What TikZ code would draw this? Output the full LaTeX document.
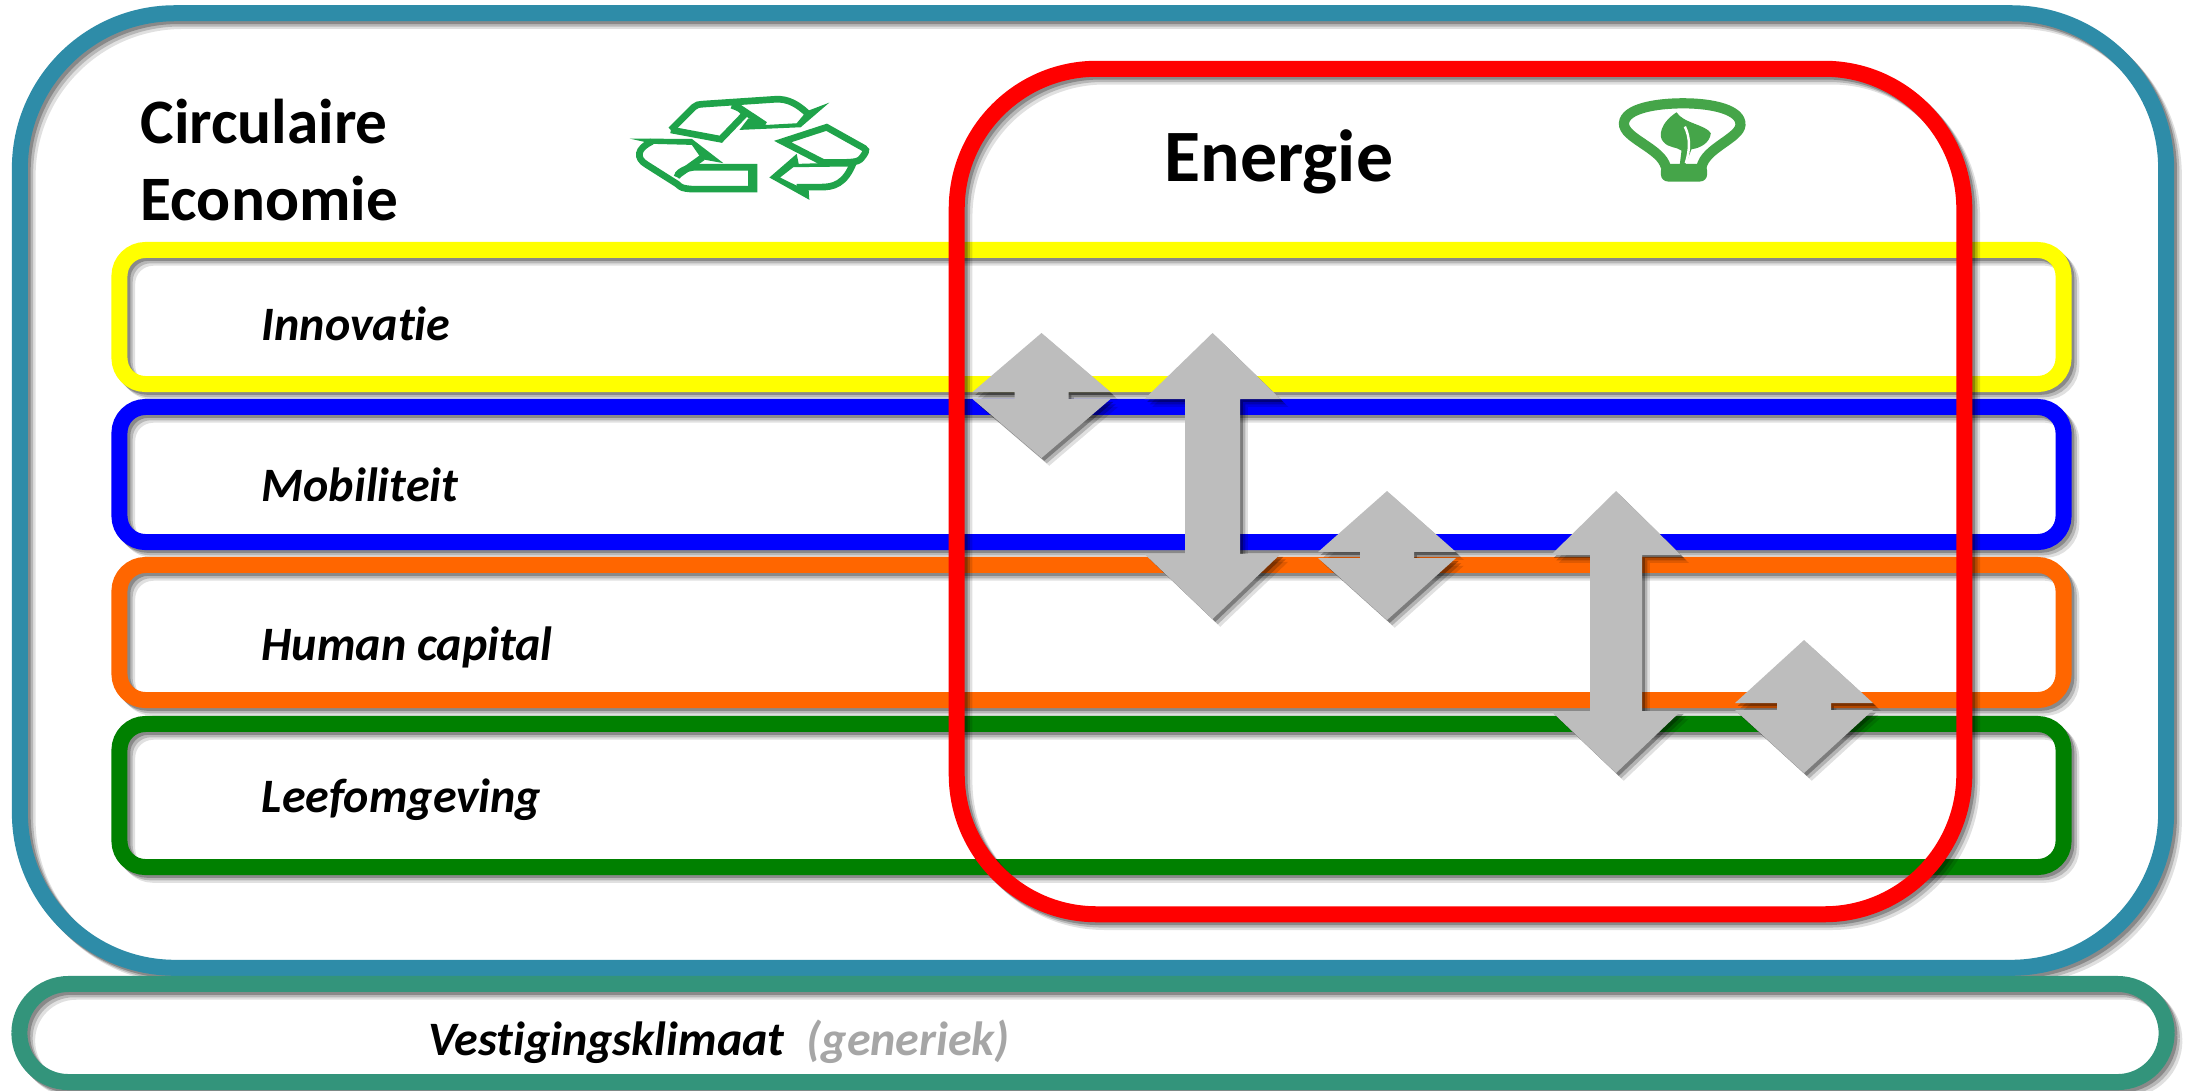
\documentclass[tikz,border=0pt]{standalone}
\usepackage{fontspec}
\setmainfont{Carlito}[Ligatures=NoCommon]
\definecolor{tealring}{HTML}{2E8CA8}
\definecolor{pillring}{HTML}{33947B}
\definecolor{yellowring}{HTML}{FFFF00}
\definecolor{orangering}{HTML}{FF6600}
\definecolor{greenring}{HTML}{008000}
\definecolor{arrowgrey}{HTML}{BDBDBD}
\definecolor{labelgrey}{HTML}{A6A6A6}
\definecolor{recyclegreen}{HTML}{1FA34A}
\definecolor{bulbgreen}{HTML}{45A549}
\tikzset{
  softshadow/.style={
    preaction={draw=black,opacity=.12,transform canvas={xshift=2.2pt,yshift=-2.2pt}},
    preaction={draw=black,opacity=.18,transform canvas={xshift=1.5pt,yshift=-1.5pt}},
    preaction={draw=black,opacity=.25,transform canvas={xshift=.8pt,yshift=-.8pt}}},
  fillshadow/.style={
    preaction={fill=black,opacity=.12,transform canvas={xshift=2.2pt,yshift=-2.2pt}},
    preaction={fill=black,opacity=.2,transform canvas={xshift=1.5pt,yshift=-1.5pt}},
    preaction={fill=black,opacity=.3,transform canvas={xshift=.8pt,yshift=-.8pt}}},
  ring/.style={draw=#1,line width=4.55pt,outer sep=0pt,inner sep=0pt,softshadow},
  band/.style={ring=#1,minimum width=19.43cm,rounded corners=.26cm},
  title/.style={anchor=base west,inner sep=0pt,font=\fontsize{18}{21.9}\selectfont\bfseries,align=left},
  theme/.style={anchor=base west,inner sep=0pt,font=\fontsize{13.65}{15}\selectfont\bfseries\itshape},
  tinyleaf/.style={draw=none,fill=bulbgreen},
  recycleline/.style={draw=recyclegreen,line width=1.9pt,line join=miter}
}
\begin{document}
\begin{tikzpicture}[x=.01cm,y=-.01cm]
  \useasboundingbox (0,0) rectangle (2185,1090);
  \fill[white] (0,0) rectangle (2185,1090);

  \node[ring=tealring,rounded corners=1.55cm,minimum width=21.45cm,minimum height=9.54cm] (ce) at (1093,490.5) {};
  \node[ring=pillring,rounded corners=.49cm,minimum width=21.46cm,minimum height=.98cm] (vk) at (1093,1033) {};

  \node[band=yellowring,minimum height=1.34cm] (innov) at (1091.5,317) {};
  \node[band=blue,minimum height=1.35cm] (mobil) at (1091.5,474.5) {};
  \node[band=orangering,minimum height=1.35cm] (human) at (1091.5,632.5) {};
  \node[band=greenring,minimum height=1.43cm] (leef) at (1091.5,795.5) {};
  \node[ring=red,rounded corners=1.4cm,minimum width=10.07cm,minimum height=8.45cm] (en) at (1460.5,491.5) {};

  % double arrows: x, half head, half shaft, top, upper base, lower base, bottom
  \foreach \x/\hw/\sw/\ytop/\ya/\yb/\ybot in {1041.5/69/27/333/392/399/458,
      1212.5/68/27.5/333/399/554/619,
      1387/69/27/491/552/558/620,
      1616/65/26/491/555/711/773,
      1804/69/27/640/703/710/773}
    \fill[arrowgrey,fillshadow] (\x,\ytop) -- (\x+\hw,\ya) -- (\x+\sw,\ya) -- (\x+\sw,\yb)
      -- (\x+\hw,\yb) -- (\x,\ybot) -- (\x-\hw,\yb) -- (\x-\sw,\yb) -- (\x-\sw,\ya)
      -- (\x-\hw,\ya) -- cycle;

  \node[title] (ce_t) at (140,220) {Circulaire\\Economie};
  \node[title,font=\fontsize{21}{24}\selectfont\bfseries] (en_t) at (1164,181) {Energie};
  \node[theme] (innov_t) at (261,340) {Innovatie};
  \node[theme] (mobil_t) at (261,501) {Mobiliteit};
  \node[theme] (human_t) at (261,660) {Human capital};
  \node[theme] (leef_t) at (261,812) {Leefomgeving};
  \node[theme] (vk_t) at (428,1055) {Vestigingsklimaat};
  \node[theme,text=labelgrey] (gen_t) at (806,1055) {(generiek)};

  % recycle icon
  \begin{scope}[shift={(597,70)},x=.00333cm,y=-.00333cm]
    \fill[recyclegreen] (630,124) -- (698,98) -- (612,172) -- (428,180) -- (455,145) -- (510,165) -- (600,160) -- cycle;
    \draw[recycleline] (222,180) -- (290,112) .. controls (300,104) .. (325,102) -- (535,88)
      .. controls (575,85) and (605,105) .. (632,130);
    \draw[recycleline] (222,180) -- (372,208) -- (445,132) .. controls (430,115) .. (405,106);
    \draw[recycleline] (425,112) -- (505,165);
    \fill[recyclegreen] (98,206) -- (285,207) -- (380,280) -- (315,268) -- (285,225) -- (170,222) -- cycle;
    \draw[recycleline] (165,215) .. controls (120,235) and (115,265) .. (150,285) -- (240,342)
      .. controls (255,355) .. (285,358) -- (472,358) -- (472,292) -- (300,292)
      .. controls (265,292) and (240,310) .. (240,322);
    \draw[recycleline] (240,318) -- (318,262);
    \fill[recyclegreen] (455,288) rectangle (478,362);
    \draw[recycleline] (558,215) -- (690,172) -- (790,228) .. controls (812,240) .. (800,258)
      .. controls (785,278) .. (680,278) -- cycle;
    \draw[recycleline] (772,275) .. controls (745,345) and (710,352) .. (670,352) -- (600,352);
    \fill[recyclegreen] (518,323) -- (600,252) -- (606,282) -- (760,277) -- (755,290) -- (590,292) -- (550,323) -- (605,350) -- (635,345) -- (638,390) -- cycle;
  \end{scope}

  % bulb icon
  \begin{scope}[shift={(1580,80)},x=.00333cm,y=-.00333cm]
    \draw[bulbgreen,line width=2.9pt] (258,262) .. controls (245,205) and (130,175) .. (132,130)
      .. controls (135,85) and (230,70) .. (310,70) .. controls (400,70) and (485,90) .. (482,135)
      .. controls (480,175) and (375,205) .. (365,262);
    \fill[tinyleaf,rounded corners=2pt] (243,252) rectangle (382,305);
    \fill[tinyleaf] (290,97) .. controls (240,130) and (235,170) .. (250,185)
      .. controls (265,205) and (290,200) .. (305,212) -- (300,252) -- (318,252) -- (335,208)
      .. controls (360,205) and (390,190) .. (393,160) .. controls (380,135) and (310,130) .. cycle;
    \draw[white,line width=.7pt] (315,140) .. controls (332,175) and (330,210) .. (318,250);
  \end{scope}
\end{tikzpicture}
\end{document}
